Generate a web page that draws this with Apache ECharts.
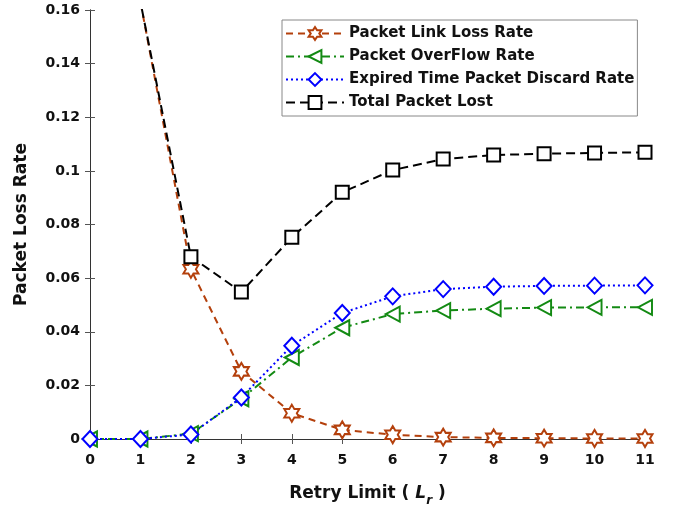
<!DOCTYPE html>
<html><head><meta charset="utf-8">
<script src="https://cdn.jsdelivr.net/npm/echarts@6/dist/echarts.min.js"></script>
<style>html,body{margin:0;padding:0;background:#fff}#c{width:678px;height:512px}</style>
</head><body><div id="c"></div>
<script>
const retryLimit = [0,1,2,3,4,5,6,7,8,9,10,11];
const linkLoss   = [0.30,0.163,0.0633,0.0252,0.0096,0.0034,0.0016,0.0007,0.0004,0.0003,0.0002,0.0002];
const overflow   = [0,0,0.0020,0.0150,0.0304,0.0415,0.0466,0.0479,0.0486,0.0490,0.0491,0.0491];
const expired    = [0,0,0.0017,0.0155,0.0348,0.0470,0.0532,0.0559,0.0568,0.0571,0.0572,0.0573];
const totalLost  = [0.30,0.163,0.0680,0.0548,0.0752,0.0920,0.1003,0.1044,0.1059,0.1064,0.1067,0.1069];
const yTicks = [0,0.02,0.04,0.06,0.08,0.1,0.12,0.14,0.16];

const FONT = 'DejaVu Sans';
const hexagram = 'path://M0,-10L2.887,-5L8.66,-5L5.774,0L8.66,5L2.887,5L0,10L-2.887,5L-8.66,5L-5.774,0L-8.66,-5L-2.887,-5Z';
const triLeft = 'path://M-10,0L10,-10L10,10Z';
const diamond = 'path://M0,-10L10,0L0,10L-10,0Z';
const square = 'path://M-10,-10L10,-10L10,10L-10,10Z';

function pairs(ys){ return retryLimit.map((x,i)=>[x,ys[i]]); }
function mk(name, ys, color, symbol, size, dash){
  return {
    name, type:'line', data: pairs(ys), clip:true,
    symbol, symbolSize:size, showAllSymbol:true,
    lineStyle:{color, width:2, type:dash},
    itemStyle:{color:'#fff', borderColor:color, borderWidth:2},
    emphasis:{disabled:true}
  };
}
const chart = echarts.init(document.getElementById('c'), null, {renderer:'canvas'});
const axisCommon = {
  axisLine:{show:true, lineStyle:{color:'#333', width:1}},
  axisTick:{show:true, inside:true, length:5, lineStyle:{color:'#555'}},
  splitLine:{show:false}
};
chart.setOption({
  animation:false,
  backgroundColor:'#fff',
  grid:{left:90, right:33, top:10, bottom:70, containLabel:false},
  legend:{
    orient:'vertical', left:282, top:20,
    itemWidth:58, itemHeight:16, itemGap:8,
    padding:[6,3,6,3],
    borderColor:'#888', borderWidth:1, backgroundColor:'#fff',
    textStyle:{fontFamily:FONT, fontWeight:'bold', fontSize:15, color:'#111'},
    data:['Packet Link Loss Rate','Packet OverFlow Rate','Expired Time Packet Discard Rate','Total Packet Lost']
  },
  xAxis:[
    Object.assign({type:'value', min:0, max:11, interval:1, position:'bottom',
      name:'{b|Retry Limit ( }{i|L}{s|r}{b| )}', nameLocation:'middle', nameGap:42,
      nameTextStyle:{rich:{
        b:{fontFamily:FONT, fontWeight:'bold', fontSize:17, color:'#111'},
        i:{fontFamily:FONT, fontWeight:'bold', fontStyle:'italic', fontSize:17, color:'#111'},
        s:{fontFamily:FONT, fontWeight:'bold', fontStyle:'italic', fontSize:12, color:'#111', padding:[14,0,0,0]}
      }},
      axisLabel:{fontFamily:FONT, fontWeight:'bold', fontSize:14, color:'#111', margin:14}
    }, axisCommon),
    Object.assign({type:'value', min:0, max:11, interval:1, position:'top', axisLabel:{show:false}}, axisCommon)
  ],
  yAxis:[
    Object.assign({type:'value', min:0, max:0.16, interval:0.02, position:'left',
      name:'Packet Loss Rate', nameLocation:'middle', nameGap:60, nameRotate:90,
      nameTextStyle:{fontFamily:FONT, fontWeight:'bold', fontSize:17, color:'#111'},
      axisLabel:{fontFamily:FONT, fontWeight:'bold', fontSize:14, color:'#111', margin:10,
        formatter:(v)=>{ const t = yTicks.find(q=>Math.abs(q-v)<1e-9); return String(t!==undefined?t:v); }}
    }, axisCommon),
    Object.assign({type:'value', min:0, max:0.16, interval:0.02, position:'right', axisLabel:{show:false}}, axisCommon)
  ],
  series:[
    mk('Packet Link Loss Rate', linkLoss, '#B4400C', hexagram, [15,17], [7,5]),
    mk('Packet OverFlow Rate', overflow, '#138A13', triLeft, [14,15], [8,4,2,4]),
    mk('Expired Time Packet Discard Rate', expired, '#0000FF', diamond, [15,16], [2,3]),
    mk('Total Packet Lost', totalLost, '#000000', square, [13,13], [9,5])
  ]
});
</script></body></html>
